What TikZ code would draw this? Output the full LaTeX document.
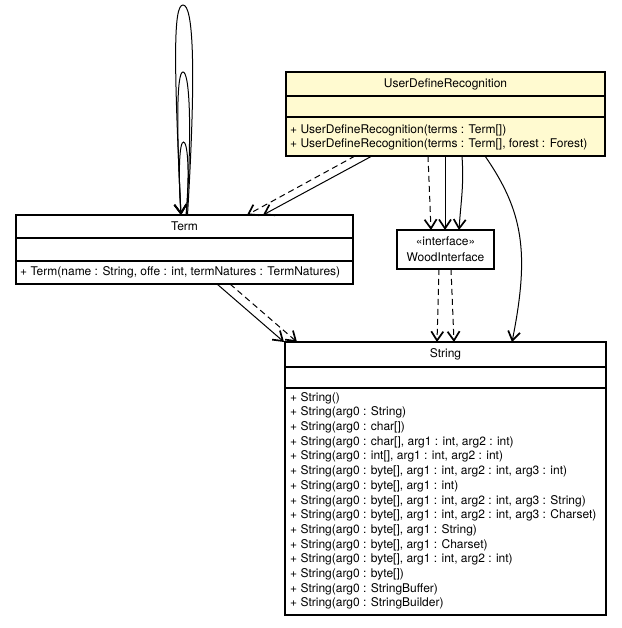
\documentclass[tikz,border=0pt]{standalone}
\usepackage{fontspec}
\setmainfont{TeX Gyre Heros}
\usetikzlibrary{arrows.meta}
\definecolor{udrfill}{RGB}{255,250,208}
\begin{document}
\begin{tikzpicture}[x=1pt,y=-1pt,
  umlbox/.style={draw=black,line width=1.1pt,inner sep=0pt,outer sep=0pt,anchor=north west},
  sepline/.style={line width=1.1pt},
  txt/.style={inner sep=0pt,font=\fontsize{12}{14}\selectfont},
  meth/.style={txt,anchor=west},
  assoc/.style={line width=1pt,-{Straight Barb[length=9pt,width=12pt,line width=1.7pt]}},
  dep/.style={assoc,dash pattern=on 6pt off 4pt}]
\useasboundingbox (0,0) rectangle (621,628);

% UserDefineRecognition
\node[umlbox,fill=udrfill,minimum width=319pt,minimum height=84pt] (udr) at (286,72) {};
\draw[sepline] ([yshift=-24pt]udr.north west) -- ([yshift=-24pt]udr.north east);
\draw[sepline] ([yshift=-45pt]udr.north west) -- ([yshift=-45pt]udr.north east);
\node[txt] (udrname) at (445.5,84) {UserDefineRecognition};
\node[meth] (udrm1) at (290,130.5) {+ UserDefineRecognition(terms : Term[])};
\node[meth] (udrm2) at (290,144.5) {+ UserDefineRecognition(terms : Term[], forest : Forest)};

% Term
\node[umlbox,minimum width=337pt,minimum height=69pt] (term) at (16,215) {};
\draw[sepline] ([yshift=-23pt]term.north west) -- ([yshift=-23pt]term.north east);
\draw[sepline] ([yshift=-46pt]term.north west) -- ([yshift=-46pt]term.north east);
\node[txt] (termname) at (184.5,226.5) {Term};
\node[meth] (termm1) at (20,272.5) {+ Term(name : String, offe : int, termNatures : TermNatures)};

% WoodInterface
\node[umlbox,minimum width=97pt,minimum height=39pt] (wi) at (397,230) {};
\node[txt] (wister) at (445.5,241.5) {«interface»};
\node[txt] (winame) at (445.5,257.5) {WoodInterface};

% String
\node[umlbox,minimum width=321pt,minimum height=273pt] (str) at (285,342) {};
\draw[sepline] ([yshift=-25pt]str.north west) -- ([yshift=-25pt]str.north east);
\draw[sepline] ([yshift=-46pt]str.north west) -- ([yshift=-46pt]str.north east);
\node[txt] (strname) at (445.5,354.5) {String};
\foreach \t [count=\i from 0] in {
  {+ String()},
  {+ String(arg0 : String)},
  {+ String(arg0 : char[])},
  {+ String(arg0 : char[], arg1 : int, arg2 : int)},
  {+ String(arg0 : int[], arg1 : int, arg2 : int)},
  {+ String(arg0 : byte[], arg1 : int, arg2 : int, arg3 : int)},
  {+ String(arg0 : byte[], arg1 : int)},
  {+ String(arg0 : byte[], arg1 : int, arg2 : int, arg3 : String)},
  {+ String(arg0 : byte[], arg1 : int, arg2 : int, arg3 : Charset)},
  {+ String(arg0 : byte[], arg1 : String)},
  {+ String(arg0 : byte[], arg1 : Charset)},
  {+ String(arg0 : byte[], arg1 : int, arg2 : int)},
  {+ String(arg0 : byte[])},
  {+ String(arg0 : StringBuffer)},
  {+ String(arg0 : StringBuilder)}}
  \node[meth] (strm\i) at (290,398+14.7*\i) {\t};

% self loops on Term
\coordinate (loopa) at (183,5);
\coordinate (loopb) at (183,72);
\coordinate (loopc) at (183.5,142);
\draw[assoc] ([xshift=3pt]term.north) .. controls +(9,-150) and +(10,0) .. (loopa)
  .. controls +(-10,0) and +(-7,-150) .. ([xshift=-3.5pt]term.north);
\draw[assoc] ([xshift=2pt]term.north) .. controls +(6,-95) and +(6,0) .. (loopb)
  .. controls +(-6,0) and +(-5,-95) .. ([xshift=-3.5pt]term.north);
\draw[assoc] ([xshift=1.5pt]term.north) .. controls +(4,-45) and +(4,0) .. (loopc)
  .. controls +(-4,0) and +(-3,-45) .. ([xshift=-3.5pt]term.north);

% UserDefineRecognition -> Term
\draw[dep] ([xshift=69pt]udr.south west) -- ([xshift=231pt]term.north west);
\draw[assoc] ([xshift=86pt]udr.south west) -- ([xshift=247pt]term.north west);

% UserDefineRecognition -> WoodInterface
\draw[dep] ([xshift=142pt]udr.south west) -- ([xshift=34pt]wi.north west);
\draw[assoc] ([xshift=159pt]udr.south west) -- ([xshift=48pt]wi.north west);
\draw[assoc] ([xshift=176pt]udr.south west) .. controls +(2,30) and +(2,-30) .. ([xshift=62pt]wi.north west);

% UserDefineRecognition -> String
\draw[assoc] ([xshift=199pt]udr.south west) .. controls +(38,55) and +(18,-90) .. ([xshift=227pt]str.north west);

% Term -> String
\draw[assoc] ([xshift=201pt]term.south west) -- ([xshift=-1pt]str.north west);
\draw[dep] ([xshift=214pt]term.south west) -- ([xshift=12pt]str.north west);

% WoodInterface -> String
\draw[dep] ([xshift=42pt]wi.south west) -- ([xshift=152pt]str.north west);
\draw[dep] ([xshift=54pt]wi.south west) -- ([xshift=169pt]str.north west);
\end{tikzpicture}
\end{document}
